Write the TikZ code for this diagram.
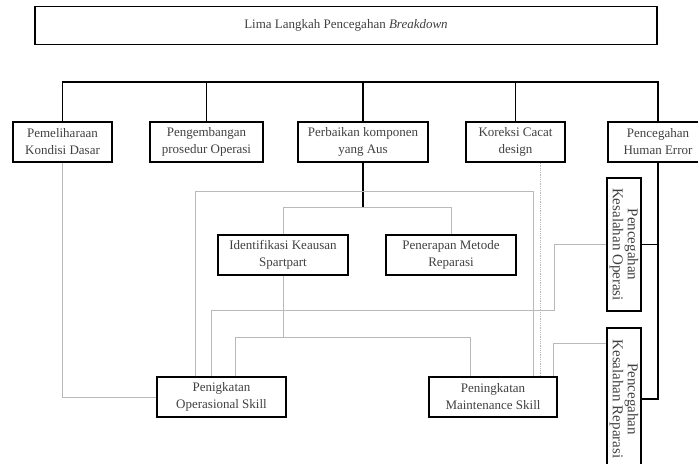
\documentclass[tikz,border=0pt]{standalone}
\usepackage{fontspec}
\setmainfont{Liberation Serif}

\tikzset{
	kotak/.style={draw,line width=1.5pt,minimum height=40pt,inner sep=1pt,align=center,text=black!75,font=\fontsize{13}{17}\selectfont},
	tegak/.style={kotak,rotate=-90,minimum height=34pt,inner sep=0pt,font=\fontsize{15}{15}\selectfont},
	garis/.style={line width=1.4pt},
	tipis/.style={gray!55,line width=0.8pt}
}

\begin{document}
\begin{tikzpicture}[x=1pt,y=-1pt]
	\useasboundingbox (0,0) rectangle (698,463);
	\clip (0,0) rectangle (698,463);
	\node[kotak,minimum width=622pt,minimum height=38pt] (judul) at (346,25.5) {Lima Langkah Pencegahan \textit{Breakdown}};
	\node[kotak,minimum width=99pt] (pk) at (62.5,142) {Pemeliharaan\\Kondisi Dasar};
	\node[kotak,minimum width=113pt] (pp) at (206.5,142) {Pengembangan\\prosedur Operasi};
	\node[kotak,minimum width=130pt] (pb) at (363,142) {Perbaikan komponen\\yang Aus};
	\node[kotak,minimum width=99pt] (kc) at (515.5,142) {Koreksi Cacat\\design};
	\node[kotak,minimum width=100pt] (ph) at (658,142) {Pencegahan\\Human Error};
	\node[kotak,minimum width=130pt] (id) at (283,255) {Identifikasi Keausan\\Spartpart};
	\node[kotak,minimum width=130pt] (pr) at (451,255) {Penerapan Metode\\Reparasi};
	\node[kotak,minimum width=129pt] (os) at (221.5,397) {Penigkatan\\Operasional Skill};
	\node[kotak,minimum width=128pt] (ms) at (493,397) {Peningkatan\\Maintenance Skill};
	\node[tegak,minimum width=133pt] (ko) at (624,244.5) {Pencegahan\\Kesalahan Operasi};
	\node[tegak,minimum width=142pt] (kr) at (624,399) {Pencegahan\\Kesalahan Reparasi};
	\coordinate (bus) at (0,82);
	\coordinate (cab) at (0,207);
	\coordinate (atas) at (533,191);
	\coordinate (belok) at (554,310);
	\coordinate (bawah) at (0,337);
	\draw[garis] (pk.north) -- (pk.north |- bus) -- (ph.north |- bus) -- (ph.north);
	\draw[garis] (pp.north) -- (pp.north |- bus);
	\draw[garis] (pb.north) -- (pb.north |- bus);
	\draw[garis] (kc.north) -- (kc.north |- bus);
	\draw[garis] (ph.south) |- (kr.north);
	\draw[garis] (ko.north) -- (ko.north -| ph.south);
	\draw[garis] (pb.south) -- (pb.south |- cab);
	\draw[tipis] (id.north) -- (id.north |- cab) -| (pr.north);
	\draw[tipis] (pk.south) |- (os.west);
	\draw[tipis] ([xshift=-26.5pt]os.north) |- (atas) -- ([xshift=40pt]ms.north);
	\draw[tipis,densely dotted] ([xshift=24.5pt]kc.south) -- ([xshift=47pt]ms.north);
	\draw[tipis] (ko.south) -| (belok) -| ([xshift=-10.5pt]os.north);
	\draw[tipis] (id.south) -- (id.south |- bawah);
	\draw[tipis] ([xshift=13.5pt]os.north) |- ([xshift=-23pt]ms.north |- bawah) -- ([xshift=-23pt]ms.north);
	\draw[tipis] ([yshift=56pt]kr.south) -| ([xshift=60pt]ms.north);
\end{tikzpicture}
\end{document}
